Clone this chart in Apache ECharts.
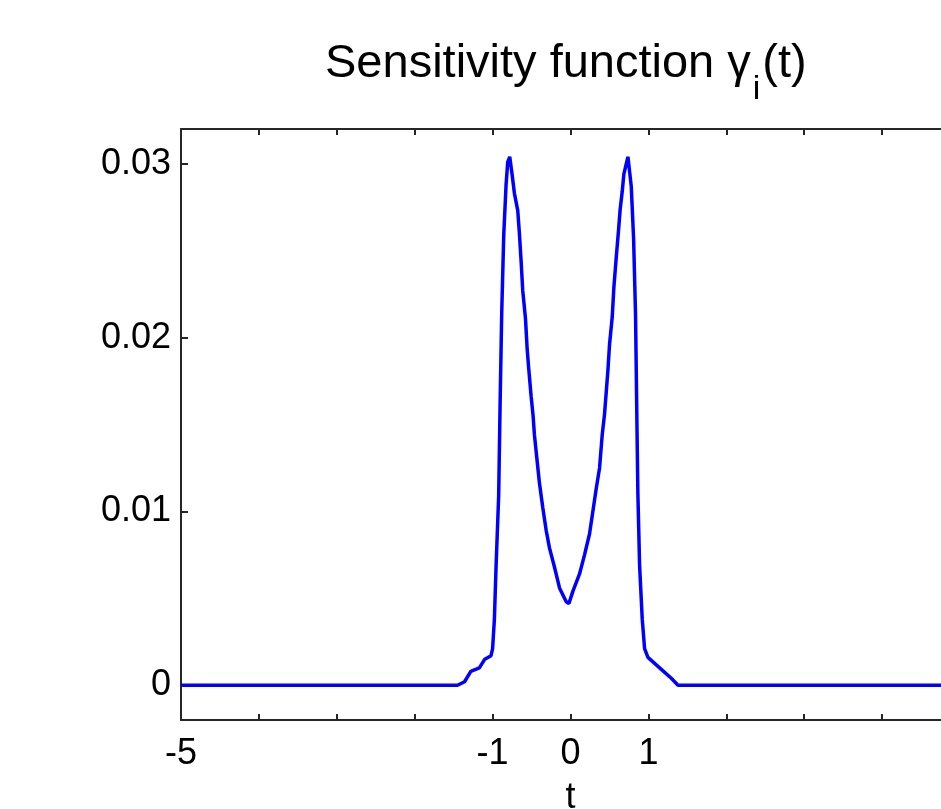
<!DOCTYPE html>
<html lang="en">
<head>
	<meta charset="utf-8" />
	<title>Sensitivity function</title>
	<script src="https://cdn.jsdelivr.net/npm/echarts@6/dist/echarts.min.js"></script>
	<style>
		html,body{margin:0;padding:0;background-color:#fff;}
		#mainchart{width:941px;height:809px;}
	</style>
</head>
<body>
<div id="mainchart"></div>
<script>
	// curve: t and gamma_i(t)
	var tValues = [-5, -1.45, -1.36, -1.28, -1.17, -1.1, -1.02, -1.0, -0.977, -0.955, -0.922, -0.904,
		-0.883, -0.857, -0.827, -0.806, -0.78, -0.75, -0.72, -0.677, -0.656, -0.634, -0.613, -0.578,
		-0.557, -0.536, -0.505, -0.48, -0.463, -0.433, -0.398, -0.355, -0.312, -0.27, -0.206, -0.141,
		-0.055, -0.02, 0.03, 0.116, 0.18, 0.244, 0.287, 0.33, 0.373, 0.407, 0.437, 0.48, 0.501, 0.536,
		0.557, 0.587, 0.617, 0.638, 0.664, 0.685, 0.737, 0.78, 0.81, 0.835, 0.85, 0.865, 0.887, 0.921,
		0.951, 0.994, 1.144, 1.294, 1.38, 5];
	var gammaValues = [0, 0, 0.0002, 0.0008, 0.001, 0.0015, 0.0017, 0.0021, 0.0038, 0.0069, 0.0109, 0.0161,
		0.0214, 0.0259, 0.0288, 0.0301, 0.0304, 0.0294, 0.0283, 0.0273, 0.026, 0.0244, 0.0227, 0.0211,
		0.0194, 0.0182, 0.0166, 0.0155, 0.0144, 0.0131, 0.0116, 0.0102, 0.0089, 0.0079, 0.0068, 0.0056,
		0.0048, 0.0047, 0.0054, 0.0064, 0.0075, 0.0087, 0.01, 0.0113, 0.0125, 0.0144, 0.0156, 0.0181, 0.0196, 0.0212,
		0.0229, 0.0246, 0.0262, 0.0274, 0.0284, 0.0294, 0.0304, 0.0287, 0.0257, 0.0213, 0.016, 0.011, 0.0069, 0.0038,
		0.0021, 0.0016, 0.001, 0.0004, 0, 0];
	var xTickLabels = [-5, -1, 0, 1, 5];
	var yTickValues = [0, 0.01, 0.02, 0.03];

	var font = "'Liberation Sans', Arial, sans-serif";
	var axisColor = '#262626';

	var seriesData = [];
	for (var i = 0; i < tValues.length; i++) {
		seriesData.push([tValues[i], gammaValues[i]]);
	}

	// title pieces: main text, subscript, tail
	var titleMain = 'Sensitivity function γ', titleSub = 'i', titleTail = '(t)';
	var titleSize = 47, subSize = 34, titleLeft = 325, titleTop = 41;
	var cv = document.createElement('canvas').getContext('2d');
	function textWidth(s, size) {
		cv.font = size + 'px ' + font;
		return cv.measureText(s).width;
	}
	var wMain = textWidth(titleMain, titleSize);
	var wSub = textWidth(titleSub, subSize);

	function titleOf(text, left, top, size) {
		return {
			text: text, left: left, top: top, padding: 0,
			textStyle: {fontFamily: font, fontSize: size, fontWeight: 'normal', color: '#000', lineHeight: size}
		};
	}

	var myChart = echarts.init(document.getElementById('mainchart'));

	function xAxisOf(pos) {
		return {
			type: 'value', min: -5, max: 5, interval: 1, position: pos,
			axisLine: {show: true, onZero: false, lineStyle: {color: axisColor, width: 2}},
			axisTick: {show: true, inside: true, length: 6, lineStyle: {color: axisColor, width: 2}},
			axisLabel: {
				show: pos === 'bottom', margin: 16, fontSize: 36, color: '#000', fontFamily: font,
				formatter: function (v) { return xTickLabels.indexOf(v) >= 0 ? String(v) : ''; }
			},
			splitLine: {show: false}
		};
	}
	function yAxisOf(pos) {
		return {
			type: 'value', min: -0.002, max: 0.032, position: pos,
			axisLine: {show: true, onZero: false, lineStyle: {color: axisColor, width: 2}},
			axisTick: {show: true, inside: true, length: 7, customValues: yTickValues, lineStyle: {color: axisColor, width: 2}},
			axisLabel: {
				show: pos === 'left', margin: 10, fontSize: 36, color: '#000', fontFamily: font,
				customValues: yTickValues,
				formatter: function (v) { return v === 0 ? '0' : v.toFixed(2); }
			},
			splitLine: {show: false}
		};
	}

	var xBottom = xAxisOf('bottom');
	xBottom.name = 't';
	xBottom.nameLocation = 'middle';
	xBottom.nameGap = 60;
	xBottom.nameTextStyle = {fontSize: 36, color: '#000', fontFamily: font};

	var option = {
		backgroundColor: '#fff',
		animation: false,
		title: [
			titleOf(titleMain, titleLeft, titleTop, titleSize),
			titleOf(titleSub, titleLeft + wMain + 2, titleTop + 32, subSize),
			titleOf(titleTail, titleLeft + wMain + wSub + 4, titleTop, titleSize)
		],
		grid: {left: 181, top: 129, width: 779, height: 591, containLabel: false, outerBoundsMode: 'none'},
		xAxis: [xBottom, xAxisOf('top')],
		yAxis: [yAxisOf('left'), yAxisOf('right')],
		series: [{
			type: 'line',
			data: seriesData,
			showSymbol: false,
			lineStyle: {color: '#0000ff', width: 3.5},
			clip: true
		}]
	};
	myChart.setOption(option);
</script>
</body>
</html>
